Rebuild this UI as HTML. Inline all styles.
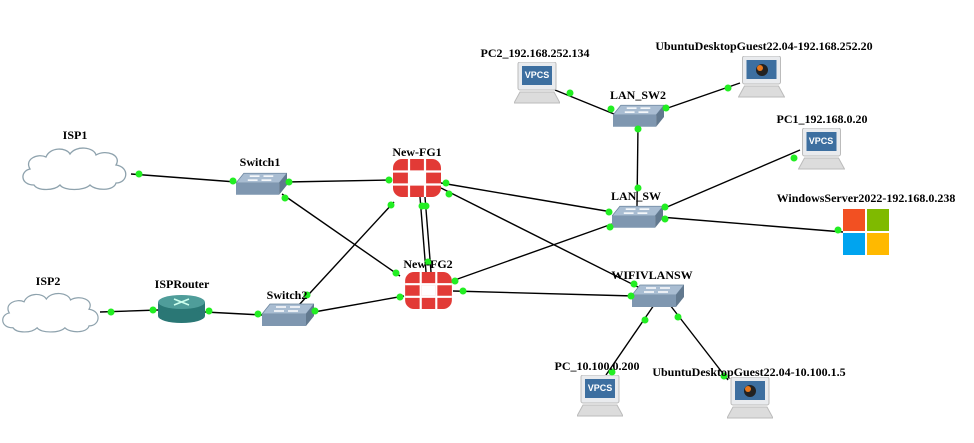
<!DOCTYPE html>
<html><head><meta charset="utf-8"><style>
html,body{margin:0;padding:0;background:#fff;}
svg{display:block}
text{font-family:"Liberation Serif",serif;font-weight:bold;font-size:12px;fill:#000;text-anchor:middle}
</style></head><body>
<svg width="974" height="443" viewBox="0 0 974 443" xmlns="http://www.w3.org/2000/svg">
<defs>
<symbol id="sw" viewBox="0 0 52 24">
<polygon points="8,1 52,1 44,11 0,11" fill="#a9bdd2" stroke="#6d869f" stroke-width="0.8"/>
<polygon points="0,11 44,11 44,23 0,23" fill="#7f97b0"/>
<polygon points="44,11 52,1 52,13 44,23" fill="#62798f"/>
<path d="M14,4 h10 M28,4 h10 M12,8 h10 M26,8 h10" stroke="#fff" stroke-width="1.5"/>
</symbol>
<symbol id="pc" viewBox="0 0 46 42">
<rect x="4" y="0" width="38" height="28" rx="2" fill="#e9ebee" stroke="#bbb"/>
<rect x="8" y="4" width="30" height="19" fill="#3d6fa0"/>
<polygon points="6,30 40,30 46,41 0,41" fill="#dcdcdc" stroke="#bbb"/>
</symbol>
<symbol id="fg" viewBox="0 0 48 38">
<rect x="0" y="0" width="48" height="38" rx="9" fill="#e23a36"/>
<path d="M16,0 v38 M32,0 v38 M0,12.5 h48 M0,25.5 h48" stroke="#fff" stroke-width="2.2"/>
<rect x="17" y="13.5" width="14" height="11" fill="#fff"/>
</symbol>
<symbol id="cloud" viewBox="0 0 110 46">
<path d="M14,40 C0,40 0,26 10,24 C4,14 18,8 26,12 C30,2 46,2 50,9 C56,0 74,2 76,10 C86,4 102,10 96,20 C110,22 108,38 96,38 C94,46 76,46 70,40 C64,46 44,46 40,40 C34,46 18,46 14,40 Z" fill="#fff" stroke="#8ea2ad" stroke-width="1.3"/>
</symbol>
</defs>
<g stroke="#000" stroke-width="1.4" fill="none">
<line x1="131" y1="174" x2="236" y2="182"/>
<line x1="286" y1="182" x2="392" y2="180"/>
<line x1="282" y1="194" x2="400" y2="276"/>
<line x1="298" y1="306" x2="394" y2="202"/>
<line x1="314" y1="312" x2="404" y2="296"/>
<line x1="205" y1="312" x2="262" y2="315"/>
<line x1="100" y1="312" x2="158" y2="310"/>
<line x1="420" y1="197" x2="426" y2="272"/>
<line x1="425" y1="197" x2="431" y2="272"/>
<line x1="441" y1="183" x2="612" y2="212"/>
<line x1="441" y1="188" x2="640" y2="288"/>
<line x1="452" y1="281" x2="612" y2="224"/>
<line x1="453" y1="291" x2="634" y2="296"/>
<line x1="638" y1="126" x2="637" y2="206"/>
<line x1="555" y1="90" x2="614" y2="114"/>
<line x1="662" y1="110" x2="740" y2="83"/>
<line x1="660" y1="210" x2="800" y2="150"/>
<line x1="660" y1="217" x2="843" y2="232"/>
<line x1="654" y1="305" x2="606" y2="375"/>
<line x1="670" y1="305" x2="728" y2="380"/>
</g>
<use href="#cloud" x="19" y="145" width="112" height="46"/>
<use href="#cloud" x="0" y="290" width="102" height="44"/>
<use href="#sw" x="236" y="172" width="51" height="24"/>
<use href="#sw" x="262" y="303" width="52" height="24"/>
<use href="#sw" x="613" y="104" width="51" height="24"/>
<use href="#sw" x="612" y="205" width="51" height="24"/>
<use href="#sw" x="632" y="284" width="52" height="24"/>
<g>
<rect x="158" y="302" width="47" height="14" fill="#2a7775"/>
<ellipse cx="181.5" cy="316" rx="23.5" ry="7" fill="#2a7775"/>
<ellipse cx="181.5" cy="302" rx="23.5" ry="7" fill="#4f9d9a"/>
<path d="M174,299 l15,6 M189,299 l-15,6" stroke="#cfe" stroke-width="1.5"/>
</g>
<use href="#fg" x="393" y="159" width="48" height="38"/>
<use href="#fg" x="404" y="272" width="49" height="37"/>
<use href="#pc" x="514" y="62" width="46" height="42"/>
<use href="#pc" x="738" y="56" width="47" height="42"/>
<use href="#pc" x="798" y="128" width="47" height="42"/>
<use href="#pc" x="577" y="375" width="46" height="42"/>
<use href="#pc" x="727" y="377" width="46" height="42"/>
<g font-family="Liberation Sans,sans-serif" font-size="9" font-weight="bold" fill="#fff" text-anchor="middle" style="font-size:9px">
<text x="537" y="78" style="fill:#fff;font-family:'Liberation Sans',sans-serif;font-size:9px">VPCS</text>
<text x="821" y="144" style="fill:#fff;font-family:'Liberation Sans',sans-serif;font-size:9px">VPCS</text>
<text x="600" y="391" style="fill:#fff;font-family:'Liberation Sans',sans-serif;font-size:9px">VPCS</text>
</g>
<circle cx="762" cy="70" r="6" fill="#222"/><circle cx="760" cy="68" r="3" fill="#e8771c"/>
<circle cx="750" cy="391" r="6" fill="#222"/><circle cx="748" cy="389" r="3" fill="#e8771c"/>
<rect x="843" y="209" width="22" height="22" fill="#f25022"/>
<rect x="867" y="209" width="22" height="22" fill="#7fba00"/>
<rect x="843" y="233" width="22" height="22" fill="#00a4ef"/>
<rect x="867" y="233" width="22" height="22" fill="#ffb900"/>
<g fill="#22ee22">
<circle cx="139" cy="174" r="3.5"/><circle cx="233" cy="181" r="3.5"/>
<circle cx="289" cy="182" r="3.5"/><circle cx="389" cy="180" r="3.5"/>
<circle cx="285" cy="198" r="3.5"/><circle cx="396" cy="273" r="3.5"/>
<circle cx="307" cy="295" r="3.5"/><circle cx="391" cy="205" r="3.5"/>
<circle cx="315" cy="311" r="3.5"/><circle cx="400" cy="297" r="3.5"/>
<circle cx="209" cy="311" r="3.5"/><circle cx="258" cy="314" r="3.5"/>
<circle cx="111" cy="312" r="3.5"/><circle cx="153" cy="310" r="3.5"/>
<circle cx="422" cy="206" r="3.5"/><circle cx="426" cy="206" r="3.5"/><circle cx="428" cy="262" r="3.5"/>
<circle cx="446" cy="183" r="3.5"/><circle cx="609" cy="212" r="3.5"/>
<circle cx="449" cy="194" r="3.5"/><circle cx="634" cy="284" r="3.5"/>
<circle cx="455" cy="281" r="3.5"/><circle cx="610" cy="227" r="3.5"/>
<circle cx="463" cy="291" r="3.5"/><circle cx="631" cy="296" r="3.5"/>
<circle cx="638" cy="188" r="3.5"/><circle cx="638" cy="129" r="3.5"/>
<circle cx="570" cy="93" r="3.5"/><circle cx="611" cy="109" r="3.5"/>
<circle cx="666" cy="108" r="3.5"/><circle cx="728" cy="88" r="3.5"/>
<circle cx="665" cy="207" r="3.5"/><circle cx="794" cy="158" r="3.5"/>
<circle cx="665" cy="219" r="3.5"/><circle cx="838" cy="230" r="3.5"/>
<circle cx="645" cy="320" r="3.5"/><circle cx="612" cy="372" r="3.5"/>
<circle cx="678" cy="317" r="3.5"/><circle cx="724" cy="376" r="3.5"/>
</g>
<text x="75" y="139">ISP1</text>
<text x="48" y="285">ISP2</text>
<text x="260" y="166">Switch1</text>
<text x="182" y="288">ISPRouter</text>
<text x="287" y="299">Switch2</text>
<text x="417" y="156">New-FG1</text>
<text x="428" y="268">New-FG2</text>
<text x="638" y="99">LAN_SW2</text>
<text x="636" y="200">LAN_SW</text>
<text x="652" y="279">WIFIVLANSW</text>
<text x="535" y="57">PC2_192.168.252.134</text>
<text x="764" y="50">UbuntuDesktopGuest22.04-192.168.252.20</text>
<text x="822" y="123">PC1_192.168.0.20</text>
<text x="866" y="202">WindowsServer2022-192.168.0.238</text>
<text x="597" y="370">PC_10.100.0.200</text>
<text x="749" y="376">UbuntuDesktopGuest22.04-10.100.1.5</text>
</svg>
</body></html>
